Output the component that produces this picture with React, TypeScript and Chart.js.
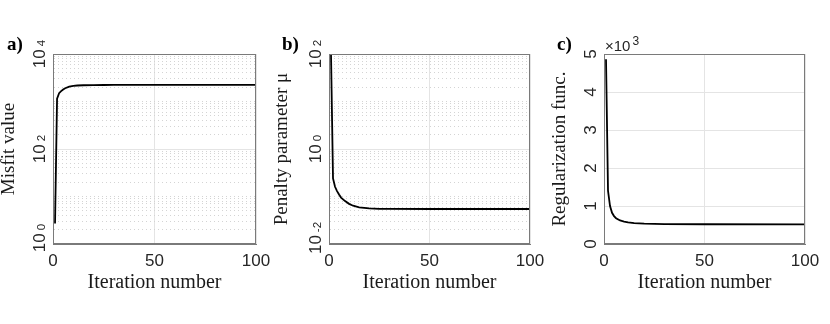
import React, { useEffect, useRef } from "react";
import { Chart, registerables } from "chart.js";
Chart.register(...registerables);

// ---------- data ----------
const iterA = [1, 2, 3, 4, 5, 6, 8, 10, 12, 15, 20, 25, 30, 40, 60, 80, 100];
const misfit = [2.7, 1150, 1500, 1650, 1790, 1900, 2060, 2130, 2170, 2200, 2215, 2225, 2230, 2235, 2238, 2240, 2240];

const iterB = [1, 2, 3, 4, 5, 6, 8, 10, 12, 15, 20, 25, 30, 50, 100];
const penalty = [100, 0.24, 0.16, 0.13, 0.11, 0.095, 0.08, 0.07, 0.064, 0.059, 0.056, 0.055, 0.0548, 0.0546, 0.0545];

const iterC = [1, 2, 3, 4, 5, 6, 8, 10, 12, 15, 20, 25, 30, 50, 100];
const regFunc = [4860, 1400, 1000, 820, 735, 680, 620, 590, 570, 550, 535, 528, 524, 520, 518];

const xTicks = [0, 50, 100];

const yMajorA = [1, 100, 10000];
const yMajorExpA = ["0", "2", "4"];
const yMinorA = [2, 3, 4, 5, 6, 7, 8, 9, 10, 20, 30, 40, 50, 60, 70, 80, 90,
  200, 300, 400, 500, 600, 700, 800, 900, 1000, 2000, 3000, 4000, 5000, 6000, 7000, 8000, 9000];

const yMajorB = [0.01, 1, 100];
const yMajorExpB = ["-2", "0", "2"];
const yMinorB = [0.02, 0.03, 0.04, 0.05, 0.06, 0.07, 0.08, 0.09, 0.1, 0.2, 0.3, 0.4, 0.5, 0.6, 0.7, 0.8, 0.9,
  2, 3, 4, 5, 6, 7, 8, 9, 10, 20, 30, 40, 50, 60, 70, 80, 90];

const yTicksC = [0, 1000, 2000, 3000, 4000, 5000];
const yLabelsC = ["0", "1", "2", "3", "4", "5"];

// ---------- styling ----------
const BOX = "#7a7a7a";
const GRID_MAJOR = "#e4e4e4";
const GRID_MINOR = "#d4d4d4";
const TEXT = "#262626";
const SANS = '"Liberation Sans", Arial, sans-serif';
const SERIF = '"Liberation Serif", "Times New Roman", serif';

type Panel = {
  key: string;
  letter: string;
  left: number;
  width: number;
  areaLeft: number;
  padRight: number;
  xs: number[];
  ys: number[];
  log: boolean;
  yMin: number;
  yMax: number;
  majors: number[];
  minors: number[];
  labels: string[];
  labelExps: string[];
  yTitle: string;
  yTitlePad: number;
  exponentNote?: string;
};

const panels: Panel[] = [
  {
    key: "a", letter: "a)", left: 0, width: 270, areaLeft: 53, padRight: 14,
    xs: iterA, ys: misfit, log: true, yMin: 1, yMax: 10000,
    majors: yMajorA, minors: yMinorA, labels: ["10", "10", "10"], labelExps: yMajorExpA,
    yTitle: "Misfit value", yTitlePad: -2.2,
  },
  {
    key: "b", letter: "b)", left: 270, width: 275, areaLeft: 59, padRight: 15,
    xs: iterB, ys: penalty, log: true, yMin: 0.01, yMax: 100,
    majors: yMajorB, minors: yMinorB, labels: ["10", "10", "10"], labelExps: yMajorExpB,
    yTitle: "Penalty parameter μ", yTitlePad: 0.6,
  },
  {
    key: "c", letter: "c)", left: 545, width: 285, areaLeft: 59, padRight: 25,
    xs: iterC, ys: regFunc, log: false, yMin: 0, yMax: 5000,
    majors: yTicksC, minors: [], labels: yLabelsC, labelExps: ["", "", "", "", "", ""],
    yTitle: "Regularization func.", yTitlePad: 3.2, exponentNote: "3",
  },
];

function makeDecorPlugin(p: Panel) {
  return {
    id: "decor_" + p.key,
    afterDraw(chart: any) {
      const ctx = chart.ctx as CanvasRenderingContext2D;
      const area = chart.chartArea;
      const yScale = chart.scales.y;
      ctx.save();
      // axis box
      ctx.strokeStyle = BOX;
      ctx.lineWidth = 1;
      const l = Math.round(area.left) + 0.5;
      const t = Math.round(area.top) + 0.5;
      const r = Math.round(area.right) - 0.5;
      const b = Math.round(area.bottom) - 0.5;
      ctx.strokeRect(l, t, r - l, b - t);

      // rotated y tick labels
      ctx.fillStyle = TEXT;
      ctx.textBaseline = "alphabetic";
      ctx.textAlign = "left";
      p.majors.forEach((v, i) => {
        let y = yScale.getPixelForValue(v);
        if (p.log && i === 0) y -= 6;
        const base = p.labels[i];
        const exp = p.labelExps[i];
        ctx.font = `17px ${SANS}`;
        const w1 = ctx.measureText(base).width;
        ctx.font = `11.5px ${SANS}`;
        const w2 = exp ? ctx.measureText(exp).width : 0;
        const gap = exp ? 3 : 0;
        const L = w1 + gap + w2;
        ctx.save();
        ctx.translate(area.left - 8, y);
        ctx.rotate(-Math.PI / 2);
        ctx.font = `17px ${SANS}`;
        ctx.fillText(base, -L / 2, 0);
        if (exp) {
          ctx.font = `11.5px ${SANS}`;
          ctx.fillText(exp, -L / 2 + w1 + gap, 0);
        }
        ctx.restore();
      });

      // panel letter
      ctx.fillStyle = "#000";
      ctx.font = `bold 19px ${SERIF}`;
      ctx.fillText(p.letter, p.key === "a" ? 7 : 12, 50);

      // x10^3 note
      if (p.exponentNote) {
        ctx.fillStyle = TEXT;
        ctx.font = `15px ${SANS}`;
        const txt = "×10";
        ctx.fillText(txt, area.left + 1, 51);
        const w = ctx.measureText(txt).width;
        ctx.font = `12px ${SANS}`;
        ctx.fillText(p.exponentNote, area.left + 1 + w + 2, 45);
      }
      ctx.restore();
    },
  };
}

function PanelChart({ p }: { p: Panel }) {
  const ref = useRef<HTMLCanvasElement | null>(null);
  useEffect(() => {
    if (!ref.current) return;
    const majorSet = new Set(p.majors);
    const allY = [...p.majors, ...p.minors].sort((a, b) => a - b);
    const chart = new Chart(ref.current, {
      type: "line",
      data: {
        datasets: [
          {
            data: p.xs.map((x, i) => ({ x, y: p.ys[i] })),
            borderColor: "#000",
            borderWidth: 1.8,
            pointRadius: 0,
            tension: 0,
            fill: false,
          },
        ],
      },
      options: {
        animation: false,
        responsive: false,
        devicePixelRatio: 1,
        events: [],
        plugins: { legend: { display: false }, tooltip: { enabled: false } },
        layout: { padding: { left: 0, top: 54, right: p.padRight, bottom: 0 } },
        scales: {
          x: {
            type: "linear",
            min: 0,
            max: 100,
            afterBuildTicks: (s: any) => {
              s.ticks = xTicks.map((v) => ({ value: v }));
            },
            afterFit: (s: any) => {
              s.height = 80;
              s.paddingLeft = 0;
              s.paddingRight = 0;
            },
            grid: { color: GRID_MAJOR, drawTicks: false, lineWidth: 1 },
            border: { display: true, color: BOX },
            ticks: {
              font: { family: SANS, size: 17 },
              color: TEXT,
              padding: 7.5,
              maxRotation: 0,
              autoSkip: false,
            },
            title: {
              display: true,
              text: "Iteration number",
              font: { family: SERIF, size: 20 },
              color: "#1a1a1a",
              padding: { top: 0, bottom: 29 },
            },
          },
          y: {
            type: p.log ? "logarithmic" : "linear",
            min: p.yMin,
            max: p.yMax,
            afterBuildTicks: (s: any) => {
              s.ticks = allY.map((v) => ({ value: v }));
            },
            afterFit: (s: any) => {
              s.width = p.areaLeft;
              s.paddingTop = 0;
              s.paddingBottom = 0;
            },
            ticks: { display: false },
            grid: {
              drawTicks: false,
              lineWidth: 1,
              color: (c: any) =>
                c.tick && !majorSet.has(c.tick.value) ? GRID_MINOR : GRID_MAJOR,
            },
            border: {
              display: true,
              color: BOX,
              dash: (c: any) =>
                c.tick && !majorSet.has(c.tick.value) ? [1, 3] : [],
            },
            title: {
              display: true,
              text: p.yTitle,
              font: { family: SERIF, size: 19 },
              color: "#1a1a1a",
              padding: { top: p.yTitlePad, bottom: 0 },
            },
          },
        },
      } as any,
      plugins: [makeDecorPlugin(p)],
    });
    return () => chart.destroy();
  }, [p]);
  return (
    <canvas
      ref={ref}
      width={p.width}
      height={324}
      style={{ position: "absolute", left: p.left, top: 0, width: p.width, height: 324 }}
    />
  );
}

export default function App() {
  return (
    <div
      style={{
        position: "fixed",
        left: 0,
        top: 0,
        width: 830,
        height: 324,
        background: "#fff",
        overflow: "hidden",
      }}
    >
      {panels.map((p) => (
        <PanelChart key={p.key} p={p} />
      ))}
    </div>
  );
}
